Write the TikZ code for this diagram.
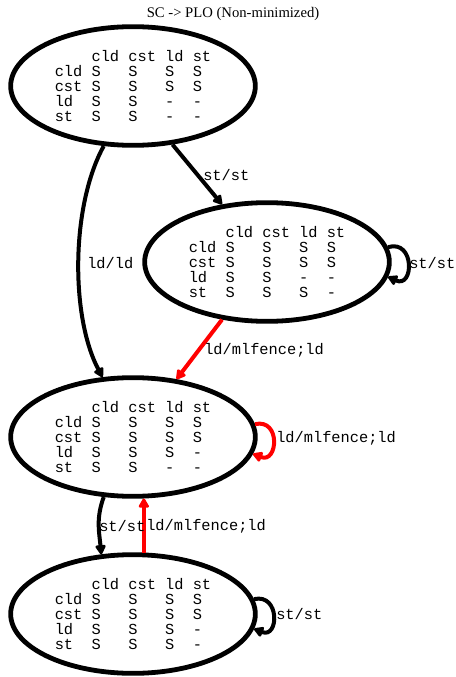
\documentclass[tikz,border=0pt]{standalone}
\usepackage{fontspec}
\setmainfont{Liberation Serif}
\setmonofont{Liberation Mono}
\usetikzlibrary{positioning,shapes.geometric,arrows.meta}
\definecolor{FenceRed}{RGB}{255,0,0}
\tikzset{
  mstate/.style={ellipse,draw=black,line width=3.6pt,inner sep=0pt,
    minimum width=183.5pt,minimum height=89pt,align=left,
    font=\ttfamily\fontsize{11.5}{11.25}\selectfont},
  tr/.style={draw=black,line width=3pt,-{Triangle[length=8pt,width=8.5pt,round]}},
  fence/.style={tr,draw=FenceRed},
  lbl/.style={anchor=west,inner sep=0pt,font=\ttfamily\fontsize{11.5}{11.25}\selectfont},
}

\begin{document}
\begin{tikzpicture}[x=0.75pt,y=-0.75pt]
\useasboundingbox (0,0) rectangle (456,677);
\node[font=\fontsize{11}{12}\selectfont] (title) at (233,14) {SC -> PLO (Non-minimized)};
% states
\node[mstate] (q0) at (133,86) {\phantom{cld~}cld~cst~ld~st\\cld~S~~~S~~~S~~S\\cst~S~~~S~~~S~~S\\ld~~S~~~S~~~-~~-\\st~~S~~~S~~~-~~-};
\node[mstate] (q1) at (267,262) {\phantom{cld~}cld~cst~ld~st\\cld~S~~~S~~~S~~S\\cst~S~~~S~~~S~~S\\ld~~S~~~S~~~-~~-\\st~~S~~~S~~~S~~-};
\node[mstate] (q2) at (133,437) {\phantom{cld~}cld~cst~ld~st\\cld~S~~~S~~~S~~S\\cst~S~~~S~~~S~~S\\ld~~S~~~S~~~S~~-\\st~~S~~~S~~~-~~-};
\node[mstate] (q3) at (133,614) {\phantom{cld~}cld~cst~ld~st\\cld~S~~~S~~~S~~S\\cst~S~~~S~~~S~~S\\ld~~S~~~S~~~S~~-\\st~~S~~~S~~~S~~-};
% transitions
\draw[tr] (q0.-56) -- (q1.128);
\draw[tr] (q0.-116) .. controls +(-33,60) and +(-32,-60) .. (q2.117);
\draw[tr] (q1.7) .. controls +(27,-8) and +(26,12) .. (q1.-7);
\draw[fence] (q1.-128) -- (q2.53);
\draw[fence] (q2.6) .. controls +(26,-6) and +(25,10) .. (q2.-8);
\draw[tr] (q2.-116) .. controls +(-8,22) and +(-2,-22) .. (q3.118);
\draw[fence] (q3.80) -- (q2.-80);
\draw[tr] (q3.7) .. controls +(26,-6) and +(25,10) .. (q3.-7);
% edge labels
\node[lbl] (l01) at (203,175) {st/st};
\node[lbl] (l02) at (87,263) {ld/ld};
\node[lbl] (l11) at (409,263) {st/st};
\node[lbl] (l12) at (204,350) {ld/mlfence;ld};
\node[lbl] (l22) at (276,438) {ld/mlfence;ld};
\node[lbl] (l23) at (99,526) {st/st};
\node[lbl] (l32) at (146,526) {ld/mlfence;ld};
\node[lbl] (l33) at (276,614) {st/st};
\end{tikzpicture}
\end{document}
